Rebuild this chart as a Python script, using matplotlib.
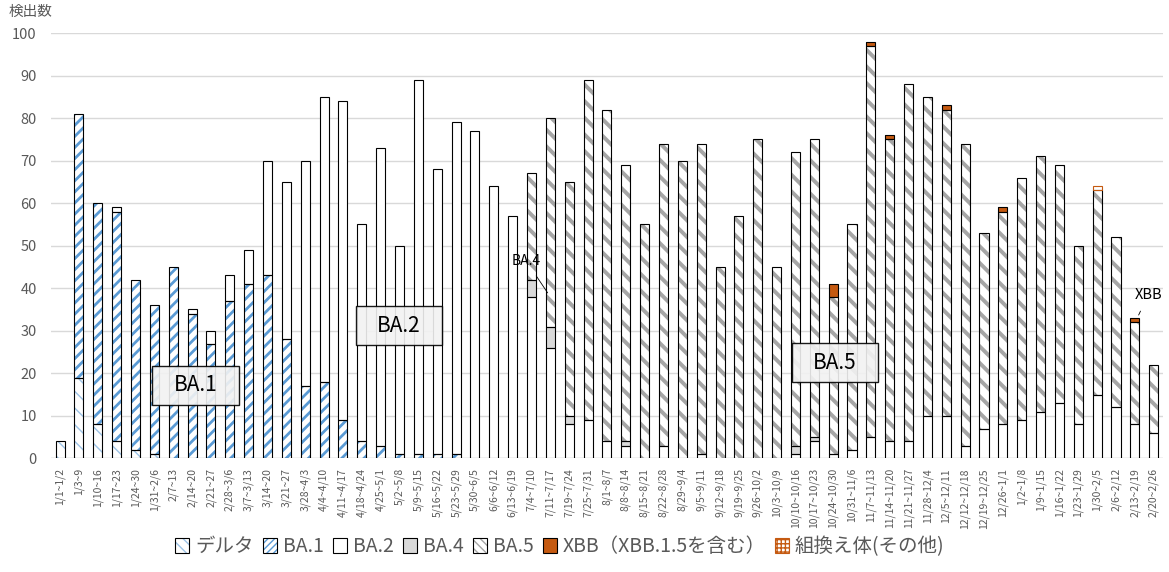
import numpy as np
import matplotlib
matplotlib.use("Agg")
import matplotlib.pyplot as plt
from matplotlib.patches import Patch, Rectangle

plt.rcParams['font.family'] = ['Noto Sans CJK JP', 'DejaVu Sans']

# week labels
labels = [
    "1/1~1/2", "1/3~9", "1/10~16", "1/17~23", "1/24~30", "1/31~2/6", "2/7~13",
    "2/14~20", "2/21~27", "2/28~3/6", "3/7~3/13", "3/14~20", "3/21~27", "3/28~4/3",
    "4/4~4/10", "4/11~4/17", "4/18~4/24", "4/25~5/1", "5/2~5/8", "5/9~5/15",
    "5/16~5/22", "5/23~5/29", "5/30~6/5", "6/6~6/12", "6/13~6/19", "7/4~7/10",
    "7/11~7/17", "7/19~7/24", "7/25~7/31", "8/1~8/7", "8/8~8/14", "8/15~8/21",
    "8/22~8/28", "8/29~9/4", "9/5~9/11", "9/12~9/18", "9/19~9/25", "9/26~10/2",
    "10/3~10/9", "10/10~10/16", "10/17~10/23", "10/24~10/30", "10/31~11/6",
    "11/7~11/13", "11/14~11/20", "11/21~11/27", "11/28~12/4", "12/5~12/11",
    "12/12~12/18", "12/19~12/25", "12/26~1/1", "1/2~1/8", "1/9~1/15", "1/16~1/22",
    "1/23~1/29", "1/30~2/5", "2/6~2/12", "2/13~2/19", "2/20~2/26",
]

# detected counts per lineage
delta = [4, 19, 8, 4, 2, 1] + [0] * 53
ba1 = [0, 62, 52, 54, 40, 35, 45, 34, 27, 37, 41, 43, 28, 17, 18, 9, 4, 3, 1, 1,
       1, 1] + [0] * 37
ba2 = [0, 0, 0, 1, 0, 0, 0, 1, 3, 6, 8, 27, 37, 53, 67, 75, 51, 70, 49, 88,
       67, 78, 77, 64, 57, 38, 26, 8, 9, 4, 3, 0, 3, 0, 1, 0, 0, 0, 0, 1,
       4, 1, 2, 5, 4, 4, 10, 10, 3, 7, 8, 9, 11, 13, 8, 15, 12, 8, 6]
ba4 = [0] * 25 + [4, 5, 2, 0, 0, 1, 0, 0, 0, 0, 0, 0, 0, 0, 2, 1] + [0] * 18
ba5 = [0] * 25 + [25, 49, 55, 80, 78, 65, 55, 71, 70, 73, 45, 57, 75, 45, 69,
                  70, 37, 53, 92, 71, 84, 75, 72, 71, 46, 50, 57, 60, 56, 42,
                  48, 40, 24, 16]
xbb = [0] * 41 + [3, 0, 1, 1, 0, 0, 1, 0, 0, 1, 0, 0, 0, 0, 0, 0, 1, 0]
other = [0] * 55 + [1, 0, 0, 0]

# name, values, face, hatch, legend hatch, hatch colour, hatch width, outline
series = [
    ("デルタ", delta, "white", "\\\\", "\\\\\\", "#9DC3E6", 1.0, "black"),
    ("BA.1", ba1, "white", "///", "/////", "#5B9BD5", 2.0, "black"),
    ("BA.2", ba2, "white", None, None, "white", 1.0, "black"),
    ("BA.4", ba4, "#D9D9D9", None, None, "#D9D9D9", 1.0, "black"),
    ("BA.5", ba5, "white", "\\\\", "\\\\\\\\", "#A6A6A6", 2.8, "black"),
    ("XBB（XBB.1.5を含む）", xbb, "#C55A11", None, None, "#C55A11", 1.0, "black"),
    ("組換え体(その他)", other, "white", "+", "++++", "#C55A11", 1.2, "#C55A11"),
]

fig = plt.figure(figsize=(11.69, 5.72), dpi=100)
ax = fig.add_axes([0.0433, 0.1988, 0.9517, 0.7432])

x = np.arange(len(labels))
width = 0.48
bottom = np.zeros(len(labels))
handles = []
for name, vals, face, hatch, lhatch, hcol, hlw, outline in series:
    vals = np.array(vals, dtype=float)
    m = vals > 0
    with plt.rc_context({'hatch.linewidth': hlw}):
        ax.bar(x[m], vals[m], width, bottom=bottom[m], color=face, hatch=hatch,
               edgecolor=hcol, linewidth=0, zorder=2)
        h1 = Patch(facecolor=face, hatch=lhatch, edgecolor=hcol, linewidth=0)
    ax.bar(x[m], vals[m], width, bottom=bottom[m], fill=False,
           edgecolor=outline, linewidth=0.8, zorder=3)
    bottom += vals
    handles.append((h1, Patch(fill=False, edgecolor=outline, linewidth=0.8)))

ax.set_xlim(-0.5, len(labels) - 0.5)
ax.set_ylim(0, 100)
ax.set_yticks(range(0, 101, 10))
ax.yaxis.grid(True, color="#D9D9D9", linewidth=1)
ax.set_axisbelow(True)
for s in ax.spines.values():
    s.set_visible(False)
ax.axhline(0, color="#D9D9D9", linewidth=1, zorder=1)

ax.set_xticks(x)
ax.set_xticklabels(labels, rotation=90, fontsize=7.5, color="#595959")
ax.tick_params(axis="x", length=0, pad=7)
ax.tick_params(axis="y", length=0, pad=10, labelsize=10.5, labelcolor="#595959")

fig.text(0.007, 0.979, "検出数", fontsize=10.5, color="#595959", va="center")

# lineage boxes
boxes = [("BA.1", 7.18, 17.2), ("BA.2", 17.97, 31.2), ("BA.5", 41.1, 22.5)]
for txt, bx, by in boxes:
    ax.add_patch(Rectangle((bx - 2.3, by - 4.6), 4.6, 9.2, facecolor="#F2F2F2",
                           edgecolor="black", linewidth=1, alpha=0.9, zorder=4))
    ax.text(bx, by, txt, fontsize=15, ha="center", va="center", zorder=5)

ax.annotate("BA.4", xy=(25.86, 38.9), xytext=(24.74, 46.3), fontsize=10,
            ha="center", va="center", zorder=5,
            arrowprops=dict(arrowstyle="-", color="black", linewidth=0.6,
                            shrinkA=4, shrinkB=0))
ax.annotate("XBB", xy=(57.2, 33.7), xytext=(57.7, 38.4), fontsize=10.5,
            ha="center", va="center", zorder=5,
            arrowprops=dict(arrowstyle="-", color="black", linewidth=0.6,
                            shrinkA=5, shrinkB=0))

leg = fig.legend(handles, [s[0] for s in series], loc="center",
                 bbox_to_anchor=(0.479, 0.044), ncol=7, frameon=False,
                 fontsize=14, handlelength=0.7, handleheight=0.8,
                 handletextpad=0.3, columnspacing=0.5)
for t in leg.get_texts():
    t.set_color("#595959")

fig.savefig("out.png", dpi=100)
